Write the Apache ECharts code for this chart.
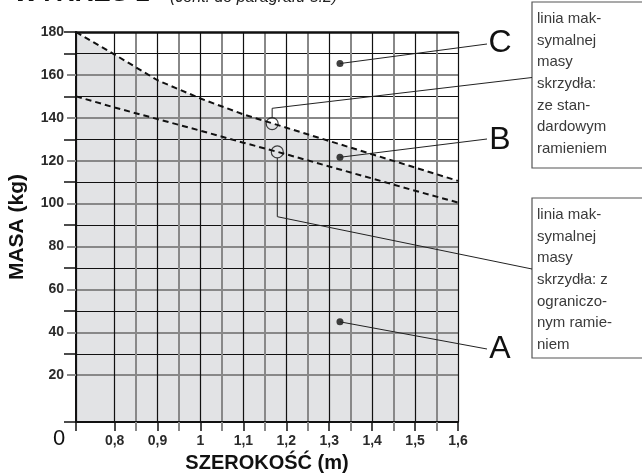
<!DOCTYPE html>
<html><head><meta charset="utf-8">
<script src="https://cdn.jsdelivr.net/npm/echarts@6/dist/echarts.min.js"></script>
<style>html,body{margin:0;padding:0;background:#fff}#c{width:642px;height:473px}</style>
</head><body><div id="c"></div>
<script>
// ---- data ----
const xLabelTicks = [0.8, 0.9, 1, 1.1, 1.2, 1.3, 1.4, 1.5, 1.6];
const xMinorTicks = [0.85, 0.95, 1.05, 1.15, 1.25, 1.35, 1.45, 1.55];
const yLabelTicks = [20, 40, 60, 80, 100, 120, 140, 160, 180];
const yGrayTicks = [20, 40, 60, 80, 100, 120, 140, 160];
const yBlackTicks = [30, 50, 70, 90, 110, 130, 150, 170, 180];
const upperWidth = [0.71, 0.8, 0.9, 1.0, 1.1, 1.2, 1.3, 1.4, 1.5, 1.6];
const upperMass = [180, 169.5, 157.5, 149, 141.6, 135.4, 129.2, 123, 116.8, 110.6];
const lowerWidth = [0.71, 0.8, 0.9, 1.0, 1.1, 1.2, 1.3, 1.4, 1.5, 1.6];
const lowerMass = [150, 144.8, 139.4, 134, 128.4, 123, 117.3, 111.7, 106, 100.5];
const regionLabels = ['C', 'B', 'A'];
const regionDotWidth = [1.325, 1.325, 1.325];
const regionDotMass = [165.3, 121.6, 44.9];
const markerWidth = [1.167, 1.179];
const markerMass = [137.3, 124.1];
const boxTexts = [
  ['linia mak-', 'symalnej', 'masy', 'skrzydła:', 'ze stan-', 'dardowym', 'ramieniem'],
  ['linia mak-', 'symalnej', 'masy', 'skrzydła: z', 'ograniczo-', 'nym ramie-', 'niem']
];
const xName = 'SZEROKOŚĆ (m)';
const yName = 'MASA (kg)';
const titleMain = 'WYKRES 1';
const titleSub = '(cont. do paragrafu 5.2)';
const xMin = 0.71, xMax = 1.6, yMin = -1.8, yMax = 180;

// ---- chart ----
const FF = '"Liberation Sans", Arial, Helvetica, sans-serif';
const chart = echarts.init(document.getElementById('c'), null, {renderer: 'canvas'});
const pairs = (xs, ys) => xs.map((x, i) => [x, ys[i]]);

const option = {
  animation: false,
  backgroundColor: '#fff',
  textStyle: {fontFamily: FF},
  grid: {left: 76, right: 184, top: 32, bottom: 51, containLabel: false, outerBoundsMode: 'none'},
  xAxis: [
    {
      type: 'value', min: xMin, max: xMax, position: 'bottom',
      name: xName, nameLocation: 'middle', nameGap: 31,
      nameTextStyle: {fontSize: 20, fontWeight: 'bold', color: '#111', fontFamily: FF},
      axisLine: {show: true, onZero: false, lineStyle: {color: '#111', width: 2}},
      axisTick: {show: true, customValues: [xMin].concat(xLabelTicks), length: 9, lineStyle: {color: '#111', width: 1.5}},
      axisLabel: {customValues: xLabelTicks, margin: 12, fontSize: 14, fontWeight: 'bold', color: '#2a2a2a', fontFamily: FF,
        formatter: v => String(v).replace('.', ',')},
      splitLine: {show: true, lineStyle: {color: '#111', width: 1.2}}
    },
    {
      type: 'value', min: xMin, max: xMax, position: 'bottom',
      axisLine: {show: false, onZero: false},
      axisTick: {show: true, customValues: xMinorTicks, length: 9, lineStyle: {color: '#888', width: 2}},
      axisLabel: {show: false},
      splitLine: {show: true, lineStyle: {color: '#888', width: 2}}
    },
    {
      type: 'value', min: xMin, max: xMax, position: 'top',
      axisLine: {show: true, onZero: false, lineStyle: {color: '#111', width: 2.5}},
      axisTick: {show: false}, axisLabel: {show: false}, splitLine: {show: false}
    }
  ],
  yAxis: [
    {
      type: 'value', min: yMin, max: yMax, position: 'left',
      name: yName, nameLocation: 'middle', nameGap: 48,
      nameTextStyle: {fontSize: 21, fontWeight: 'bold', color: '#111', fontFamily: FF},
      axisLine: {show: true, onZero: false, lineStyle: {color: '#111', width: 2}},
      axisTick: {show: true, customValues: yGrayTicks, length: 9, lineStyle: {color: '#888', width: 2}},
      axisLabel: {customValues: yLabelTicks, margin: 12, fontSize: 14, fontWeight: 'bold', color: '#2a2a2a', fontFamily: FF},
      splitLine: {show: true, lineStyle: {color: '#888', width: 2}}
    },
    {
      type: 'value', min: yMin, max: yMax, position: 'left',
      axisLine: {show: false, onZero: false},
      axisTick: {show: true, customValues: [yMin].concat(yBlackTicks), length: 12, lineStyle: {color: '#111', width: 1.5}},
      axisLabel: {show: false},
      splitLine: {show: true, lineStyle: {color: '#111', width: 1.2}}
    }
  ],
  series: [
    {
      type: 'line', name: 'fill', data: pairs(upperWidth, upperMass), z: -1,
      showSymbol: false, silent: true,
      lineStyle: {width: 0, opacity: 0},
      areaStyle: {color: '#e2e3e5', opacity: 1, origin: 'start'}
    },
    {
      type: 'line', name: 'upper', data: pairs(upperWidth, upperMass), z: 5,
      showSymbol: false, lineStyle: {color: '#111', width: 2, type: [6, 4]}
    },
    {
      type: 'line', name: 'lower', data: pairs(lowerWidth, lowerMass), z: 5,
      showSymbol: false, lineStyle: {color: '#111', width: 2, type: [6, 4]}
    },
    {
      type: 'scatter', name: 'regions', data: pairs(regionDotWidth, regionDotMass), z: 6,
      symbol: 'circle', symbolSize: 7, itemStyle: {color: '#111'}
    },
    {
      type: 'scatter', name: 'markers', data: pairs(markerWidth, markerMass), z: 6,
      symbol: 'circle', symbolSize: 12,
      itemStyle: {color: 'rgba(0,0,0,0)', borderColor: '#111', borderWidth: 1.2}
    }
  ]
};
chart.setOption(option);

// ---- annotations (positions derived from the axes) ----
const px = (x, y) => chart.convertToPixel({xAxisIndex: 0, yAxisIndex: 0}, [x, y]);
const g = [];
const labelX = 500;
const labelYs = [43.5, 140.5, 349.5];
const lineEndX = 487;
const lineEndYs = [44, 139, 349];
regionLabels.forEach((lab, i) => {
  const p = px(regionDotWidth[i], regionDotMass[i]);
  g.push({type: 'line', shape: {x1: p[0], y1: p[1], x2: lineEndX, y2: lineEndYs[i]},
    style: {stroke: '#222', lineWidth: 1}, z: 10});
  g.push({type: 'text', x: labelX, y: labelYs[i], z: 10,
    style: {text: lab, font: '32px ' + FF, fill: '#111', textAlign: 'center', textVerticalAlign: 'middle', align: 'center', verticalAlign: 'middle'}});
});
// boxes
const boxX = 532;
const boxYs = [2, 198];
const boxHs = [166, 160];
const boxEdgeYs = [77.5, 269];
boxTexts.forEach((lines, i) => {
  g.push({type: 'rect', shape: {x: boxX, y: boxYs[i], width: 130, height: boxHs[i]},
    style: {fill: '#fff', stroke: '#555', lineWidth: 1.2}, z: 10});
  g.push({type: 'text', x: boxX + 5, y: boxYs[i] + 6, z: 11,
    style: {text: lines.join('\n'), font: '15px ' + FF, fill: '#3a3a3a', lineHeight: 21.7,
      textAlign: 'left', textVerticalAlign: 'top', align: 'left', verticalAlign: 'top'}});
});
// marker leader lines
const r = 6;
const m0 = px(markerWidth[0], markerMass[0]);
const m1 = px(markerWidth[1], markerMass[1]);
g.push({type: 'polyline', z: 10, shape: {points: [[m0[0], m0[1] - r], [m0[0], 108.3], [boxX, boxEdgeYs[0]]]},
  style: {stroke: '#222', lineWidth: 1, fill: null}});
g.push({type: 'polyline', z: 10, shape: {points: [[m1[0], m1[1] + r], [m1[0], 216.7], [boxX, boxEdgeYs[1]]]},
  style: {stroke: '#222', lineWidth: 1, fill: null}});
// origin "0"
const o = px(xMin, yMin);
g.push({type: 'text', x: o[0] - 17, y: o[1] + 17, z: 10,
  style: {text: '0', font: '22px ' + FF, fill: '#111', textAlign: 'center', textVerticalAlign: 'middle', align: 'center', verticalAlign: 'middle'}});
// cut-off heading
g.push({type: 'text', x: 15, y: -6, z: 10,
  style: {text: titleMain, font: 'italic bold 26px ' + FF, fill: '#111', textAlign: 'left', textVerticalAlign: 'middle', align: 'left', verticalAlign: 'middle'}});
g.push({type: 'text', x: 170, y: -2, z: 10,
  style: {text: titleSub, font: 'italic 16px ' + FF, fill: '#222', textAlign: 'left', textVerticalAlign: 'middle', align: 'left', verticalAlign: 'middle'}});
chart.setOption({graphic: g});
</script>
</body></html>
